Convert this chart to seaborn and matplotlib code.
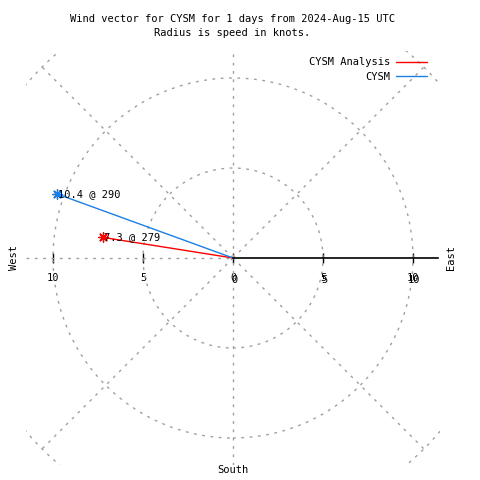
import numpy as np
import pandas as pd
import matplotlib
matplotlib.use("Agg")
import matplotlib.pyplot as plt
import seaborn as sns
from matplotlib.patches import Circle

# wind vectors
series = ["CYSM Analysis", "CYSM"]
speeds = [7.3, 10.4]          # knots
directions = [279, 290]       # degrees (compass)
colors = ["#ff0000", "#1a80e6"]

grid_radii = [5, 10, 15]
grid_angles = [45, 135, 225, 315]
tick_vals = [-10, -5, 0, 5, 10]
tick_labels = ["10", "5", "0", "5", "10"]

lim = 11.5
fs = 7.5

sns.set_style("white")
plt.rcParams['font.family'] = ['DejaVu Sans Mono']
plt.rcParams['text.color'] = 'black'
plt.rcParams['xtick.color'] = 'black'
plt.rcParams['xtick.labelcolor'] = 'black'

fig = plt.figure(figsize=(4.8, 4.8), dpi=100)
ax = fig.add_axes([26 / 480, 15 / 480, 414 / 480, 414 / 480])
ax.set_xlim(-lim, lim)
ax.set_ylim(-lim, lim)
ax.set_aspect("equal")

grid_kw = dict(color="#a0a0a0", linewidth=1, linestyle=(0, (2, 4)))

# polar grid
for r in grid_radii:
    ax.add_patch(Circle((0, 0), r, fill=False, **grid_kw))
for a in grid_angles:
    t = np.deg2rad(a)
    ax.plot([0, 15 * np.cos(t)], [0, 15 * np.sin(t)], **grid_kw)
ax.plot([0, 0], [-lim, lim], **grid_kw)
ax.plot([-lim, 0], [0, 0], **grid_kw)

# axis along east
for s in ["top", "left", "right"]:
    ax.spines[s].set_visible(False)
ax.spines["bottom"].set_position(("data", 0))
ax.spines["bottom"].set_bounds(0, 11.4)
ax.spines["bottom"].set_linewidth(1.2)
ax.spines["bottom"].set_color("black")
ax.set_xticks(tick_vals)
ax.set_xticklabels(tick_labels)
ax.tick_params(axis="x", bottom=True, direction="inout", length=7, width=1,
               color="black", pad=7, labelsize=fs)
ax.set_yticks([])
for v, lab in zip(tick_vals, tick_labels):
    if v >= 0:
        ax.annotate(lab, (v, 0), xytext=(0.8, -16), textcoords="offset points",
                    ha="center", va="center", fontsize=fs)

# wind vectors
for name, spd, d, c in zip(series, speeds, directions, colors):
    t = np.deg2rad(90 - d)
    px, py = spd * np.cos(t), spd * np.sin(t)
    df = pd.DataFrame({"x": [0, px], "y": [0, py]})
    sns.lineplot(data=df, x="x", y="y", sort=False, color=c, linewidth=1, ax=ax, label=name)
    sns.scatterplot(x=[px], y=[py], marker=(8, 2, 0), s=45, color=c, edgecolor=c,
                    linewidth=1, ax=ax, legend=False)
    ax.text(px + 0.05, py, f"{spd} @ {d}", fontsize=fs, ha="left", va="center")

ax.set_xlabel("")
ax.set_ylabel("")

leg = ax.legend(loc="upper right", bbox_to_anchor=(436 / 480, 1 - 48 / 480),
                bbox_transform=fig.transFigure, frameon=False, markerfirst=False,
                handlelength=2.9, handletextpad=0.6, labelspacing=0.45, fontsize=fs)
leg._legend_box.align = "right"

fig.text(232 / 480, 1 - 19 / 480, "Wind vector for CYSM for 1 days from 2024-Aug-15 UTC",
         ha="center", va="center", fontsize=fs)
fig.text(232 / 480, 1 - 33 / 480, "Radius is speed in knots.",
         ha="center", va="center", fontsize=fs)
fig.text(14 / 480, 1 - 258 / 480, "West", rotation=90, ha="center", va="center", fontsize=fs)
fig.text(451 / 480, 1 - 258 / 480, "East", rotation=90, ha="center", va="center", fontsize=fs)
fig.text(233 / 480, 1 - 470 / 480, "South", ha="center", va="center", fontsize=fs)

fig.savefig("out.png", dpi=100)
